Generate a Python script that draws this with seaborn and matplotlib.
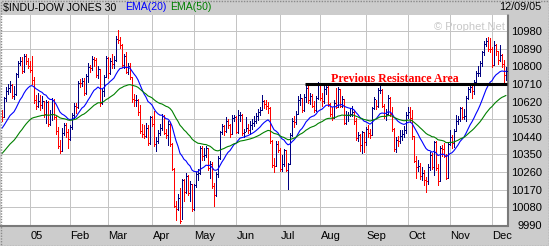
import numpy as np
import pandas as pd
import matplotlib
matplotlib.use("Agg")
import matplotlib.pyplot as plt
import seaborn as sns
from matplotlib.patches import Rectangle

# ---------------- data ----------------
# daily bars 10 Dec 2004 .. 9 Dec 2005 ; index 0 = 3 Jan 2005
first_bar_index = -15
prev_close_before_first = 10553

close = [
    10543, 10638, 10676, 10691, 10705, 10649, 10661, 10759, 10815, 10827, 10776, 10854, 10829, 10800, 10783,
    10729, 10630, 10597, 10622, 10603, 10621, 10556, 10617, 10505, 10558, 10628, 10539, 10471, 10393, 10368, 10461, 10498, 10467, 10427, 10489,
    10551, 10596, 10593, 10716, 10715, 10724, 10664, 10749, 10796, 10791, 10837, 10834, 10754, 10785, 10611, 10673, 10748, 10841, 10766,
    10830, 10811, 10833, 10941, 10936, 10912, 10805, 10851, 10774, 10804, 10745, 10633, 10626, 10629, 10565, 10470, 10456, 10442, 10486, 10406, 10541, 10504,
    10404, 10421, 10458, 10486, 10546, 10461, 10448, 10507, 10403, 10278, 10087, 10071, 10127, 10012, 10218, 10157, 10242, 10151, 10198, 10070, 10192,
    10251, 10256, 10384, 10340, 10345, 10384, 10281, 10300, 10189, 10140, 10252, 10331, 10464, 10493, 10471, 10523, 10503, 10457, 10537, 10542, 10467,
    10553, 10553, 10460, 10467, 10483, 10476, 10503, 10512, 10522, 10547, 10566, 10578, 10623, 10609, 10596, 10587, 10421, 10297, 10290, 10405, 10374, 10275,
    10303, 10371, 10270, 10302, 10449, 10519, 10514, 10557, 10628, 10641, 10575, 10646, 10689, 10627, 10651, 10596, 10579, 10637, 10705, 10641,
    10624, 10683, 10697, 10610, 10559, 10536, 10615, 10594, 10685, 10600, 10634, 10513, 10550, 10554, 10559, 10569, 10519, 10435, 10450, 10397, 10464, 10413, 10481,
    10459, 10447, 10589, 10633, 10596, 10678, 10682, 10597, 10544, 10558, 10641, 10557, 10481, 10378, 10422, 10419, 10443, 10456, 10473, 10552, 10569,
    10535, 10442, 10317, 10288, 10292, 10238, 10253, 10217, 10216, 10287, 10348, 10285, 10414, 10281, 10215, 10385, 10377, 10344, 10229, 10402, 10440,
    10406, 10472, 10522, 10530, 10586, 10539, 10546, 10640, 10686, 10697, 10675, 10721, 10766, 10766, 10820, 10872, 10916, 10932, 10890, 10888, 10806,
    10912, 10877, 10835, 10856, 10810, 10755, 10778,
]

high = [
    10578, 10645, 10695, 10708, 10728, 10712, 10700, 10765, 10828, 10848, 10850, 10866, 10865, 10845, 10830,
    10854, 10745, 10652, 10662, 10655, 10648, 10624, 10628, 10622, 10578, 10640, 10632, 10545, 10492, 10425, 10485, 10512, 10510, 10478, 10502,
    10562, 10612, 10615, 10728, 10738, 10742, 10740, 10760, 10815, 10808, 10852, 10850, 10842, 10802, 10788, 10685, 10756, 10852, 10846,
    10842, 10862, 10852, 10955, 10985, 10950, 10915, 10862, 10872, 10815, 10815, 10748, 10660, 10652, 10635, 10602, 10505, 10500, 10512, 10502, 10545, 10548,
    10570, 10440, 10475, 10505, 10555, 10550, 10482, 10520, 10512, 10410, 10280, 10110, 10150, 10180, 10225, 10225, 10255, 10245, 10215, 10200, 10200,
    10262, 10278, 10392, 10395, 10385, 10392, 10385, 10318, 10312, 10205, 10262, 10340, 10472, 10505, 10500, 10540, 10530, 10505, 10550, 10552, 10548,
    10575, 10565, 10555, 10482, 10540, 10505, 10520, 10530, 10548, 10560, 10580, 10592, 10655, 10630, 10630, 10620, 10595, 10425, 10330, 10418, 10420, 10385,
    10345, 10380, 10375, 10305, 10460, 10535, 10545, 10570, 10650, 10660, 10640, 10660, 10700, 10705, 10665, 10660, 10625, 10648, 10718, 10712,
    10665, 10700, 10715, 10700, 10615, 10590, 10630, 10690, 10695, 10685, 10650, 10635, 10570, 10565, 10585, 10600, 10575, 10535, 10465, 10455, 10470, 10465, 10490,
    10500, 10480, 10595, 10645, 10630, 10690, 10710, 10685, 10610, 10580, 10655, 10645, 10590, 10485, 10440, 10445, 10475, 10475, 10495, 10565, 10590,
    10590, 10575, 10445, 10340, 10320, 10305, 10285, 10270, 10235, 10300, 10360, 10355, 10420, 10420, 10300, 10395, 10400, 10410, 10350, 10410, 10475,
    10450, 10480, 10550, 10545, 10595, 10590, 10580, 10650, 10695, 10710, 10712, 10730, 10775, 10800, 10828, 10880, 10930, 10945, 10950, 10945, 10900,
    10930, 10915, 10880, 10912, 10865, 10835, 10795,
]

low = [
    10522, 10540, 10625, 10660, 10668, 10640, 10635, 10655, 10748, 10805, 10768, 10770, 10812, 10790, 10772,
    10710, 10612, 10580, 10592, 10578, 10585, 10540, 10510, 10495, 10502, 10528, 10532, 10452, 10382, 10358, 10368, 10448, 10440, 10385, 10425,
    10480, 10538, 10560, 10588, 10695, 10700, 10652, 10660, 10718, 10772, 10780, 10800, 10745, 10742, 10600, 10608, 10648, 10745, 10742,
    10760, 10790, 10790, 10830, 10918, 10895, 10795, 10790, 10765, 10762, 10735, 10620, 10600, 10598, 10552, 10460, 10440, 10435, 10440, 10400, 10405, 10495,
    10395, 10370, 10410, 10450, 10475, 10452, 10435, 10400, 10395, 10270, 10080, 10015, 10065, 10000, 10020, 10110, 10155, 10142, 10110, 10060, 10068,
    10185, 10220, 10252, 10320, 10320, 10335, 10270, 10230, 10178, 10085, 10135, 10235, 10325, 10455, 10450, 10465, 10485, 10440, 10455, 10520, 10460,
    10460, 10520, 10450, 10440, 10470, 10460, 10455, 10480, 10495, 10510, 10525, 10550, 10575, 10585, 10580, 10560, 10410, 10288, 10262, 10290, 10362, 10265,
    10265, 10290, 10265, 10175, 10300, 10445, 10490, 10505, 10555, 10605, 10565, 10570, 10620, 10615, 10610, 10590, 10565, 10570, 10635, 10630,
    10600, 10615, 10660, 10600, 10545, 10525, 10535, 10585, 10590, 10590, 10590, 10505, 10505, 10520, 10545, 10545, 10505, 10425, 10420, 10370, 10355, 10360, 10400,
    10440, 10435, 10450, 10580, 10580, 10595, 10665, 10590, 10535, 10525, 10555, 10545, 10470, 10365, 10360, 10395, 10410, 10425, 10440, 10460, 10535,
    10515, 10430, 10310, 10230, 10265, 10225, 10220, 10195, 10156, 10200, 10270, 10275, 10245, 10270, 10195, 10215, 10340, 10335, 10225, 10228, 10400,
    10385, 10390, 10470, 10505, 10520, 10530, 10530, 10520, 10635, 10670, 10640, 10660, 10715, 10750, 10750, 10800, 10860, 10905, 10880, 10875, 10795,
    10806, 10860, 10810, 10830, 10795, 10715, 10730,
]

ema20_seed = 10484
ema50_seed = 10355

month_labels = ["05", "Feb", "Mar", "Apr", "May", "Jun", "Jul", "Aug", "Sep", "Oct", "Nov", "Dec"]
month_first_bar = [0, 20, 39, 61, 82, 103, 125, 145, 168, 189, 210, 231]
price_ticks = [9990, 10080, 10170, 10260, 10350, 10440, 10530, 10620, 10710, 10800, 10890, 10980]

resistance_level = 10710
resistance_start_bar = 137  # 20 Jul 2005

title_text = "$INDU-DOW JONES 30"
date_text = "12/09/05"

# ---------------- derived ----------------
n = len(close)
idx = np.arange(first_bar_index, first_bar_index + n)
prev = [prev_close_before_first] + close[:-1]
colors = ["#000080" if c >= p else "#ff0000" for c, p in zip(close, prev)]


def ema(vals, period, seed):
    a = 2.0 / (period + 1)
    out = [seed]
    for v in vals[1:]:
        out.append(out[-1] + a * (v - out[-1]))
    return out


df = pd.DataFrame({"idx": idx, "close": close, "high": high, "low": low,
                   "ema20": ema(close, 20, ema20_seed),
                   "ema50": ema(close, 50, ema50_seed)})

# ---------------- figure ----------------
sns.set_theme(style="white")
plt.rcParams["font.family"] = ["Liberation Sans", "DejaVu Sans"]

W, H = 549, 246
PX = 0.72  # one pixel in points at dpi 100
fig = plt.figure(figsize=(W / 100, H / 100), dpi=100, facecolor="#cccccc")
ax = fig.add_axes([1 / W, 20 / H, 506.5 / W, 211 / H])
ax.set_facecolor("white")
ax.set_xlim(-15.5, 237.75)
ax.set_ylim(9984, 11063)

ax.set_xticks([m - 0.75 for m in month_first_bar])
ax.set_xticklabels(month_labels)
ax.set_yticks(price_ticks)
ax.set_yticklabels([str(p) for p in price_ticks])
ax.yaxis.tick_right()
ax.tick_params(axis="y", length=0, pad=24.6, labelsize=8, labelcolor="black")
ax.tick_params(axis="x", length=0, pad=3.5, labelsize=8, labelcolor="black")
for t in ax.get_yticklabels():
    t.set_ha("right")
for t in ax.get_xticklabels():
    t.set_ha("left")

ax.grid(True, color="#c4c4c4", lw=PX, antialiased=False)
ax.set_axisbelow(True)

for s in ["top", "left"]:
    ax.spines[s].set_visible(False)
for s in ["bottom", "right"]:
    ax.spines[s].set_color("#7a7a7a")
    ax.spines[s].set_linewidth(1.5)
    ax.spines[s].set_linestyle((0, (1, 1)))

# OHLC-style bars
ax.vlines(df["idx"], df["low"], df["high"], colors=colors, linewidth=PX,
          antialiased=False, zorder=3)
ax.hlines(df["close"], df["idx"], df["idx"] + 0.6, colors=colors, linewidth=PX,
          antialiased=False, zorder=3)

# EMAs
sns.lineplot(data=df, x="idx", y="ema20", color="#0000ff", linewidth=0.8,
             estimator=None, legend=False, ax=ax, zorder=4)
sns.lineplot(data=df, x="idx", y="ema50", color="#008000", linewidth=0.8,
             estimator=None, legend=False, ax=ax, zorder=4)
ax.set_xlabel("")
ax.set_ylabel("")

# resistance line + annotation
ax.plot([resistance_start_bar - 0.5, 237.75], [resistance_level, resistance_level],
        color="black", linewidth=2.2, solid_capstyle="butt", zorder=5)
ax.text(181.25, resistance_level + 12, "Previous Resistance Area", color="#ff0000",
        fontsize=8.6, fontweight="bold", family=["Liberation Serif", "DejaVu Serif"],
        ha="center", va="baseline", zorder=6)

# header texts
fig.text(3 / W, 1 - 7.5 / H, title_text, fontsize=7.6, color="black",
         ha="left", va="center", parse_math=False)
fig.text(125 / W, 1 - 7.5 / H, "EMA(20)", fontsize=7.6, color="#0000ff",
         ha="left", va="center")
fig.text(170 / W, 1 - 7.5 / H, "EMA(50)", fontsize=7.6, color="#008000",
         ha="left", va="center")
fig.text(541 / W, 1 - 7.5 / H, date_text, fontsize=7.8, color="black",
         ha="right", va="center")

# watermark
fig.text(505 / W, 1 - 26.5 / H, "\u00a9 Prophet.Net", fontsize=8, color="#c8c8c8",
         ha="right", va="center")

# dotted outer border
fig.patches.append(Rectangle((0.5 / W, 0.5 / H), (W - 1) / W, (H - 1) / H,
                             transform=fig.transFigure, fill=False,
                             edgecolor="#8a8a8a", lw=1.0, linestyle=(0, (1, 1))))

fig.savefig("out.png", dpi=100, facecolor=fig.get_facecolor())
